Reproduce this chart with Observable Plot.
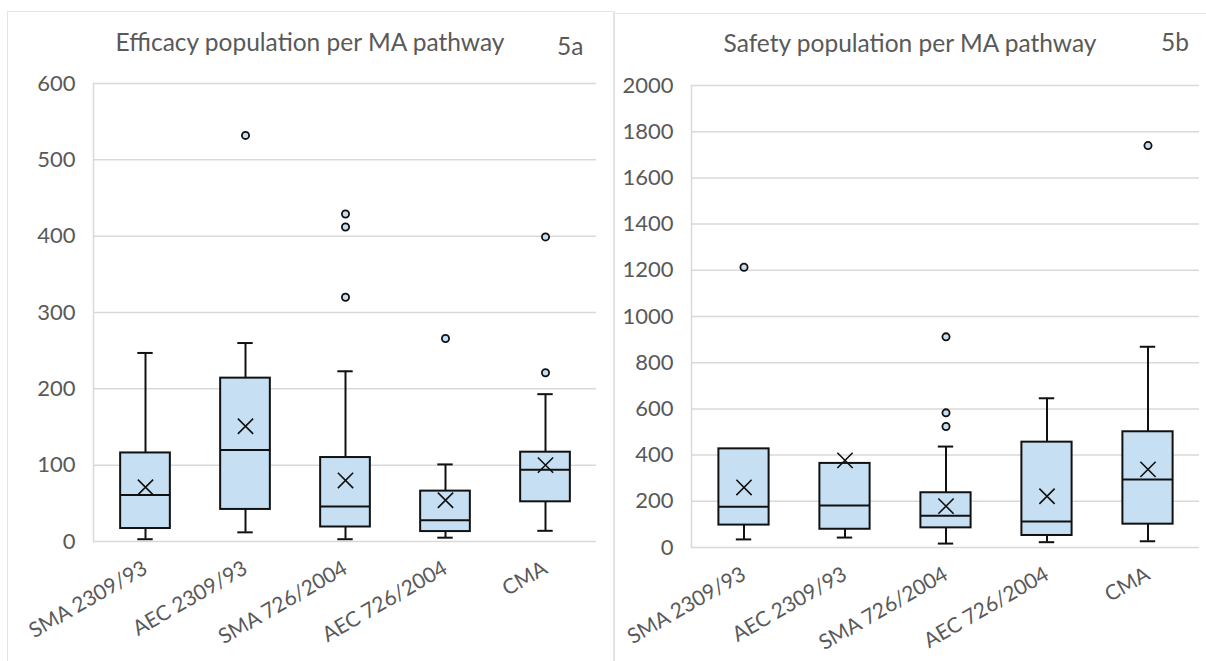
<!DOCTYPE html>
<html><head><meta charset="utf-8">
<script src="https://cdn.jsdelivr.net/npm/d3@7"></script>
<script src="https://cdn.jsdelivr.net/npm/@observablehq/plot@0.6"></script>
<style>
body{margin:0;background:#fff;font-family:Lato,sans-serif;}
#wrap{position:relative;width:1206px;height:661px;overflow:hidden;background:#fff;}
.panel{position:absolute;border:1px solid #e4e4e4;}
.chart{position:absolute;top:0;}
.title{position:absolute;color:#595959;font-size:24.5px;line-height:1;white-space:nowrap;}
</style></head><body>
<div id="wrap">
  <div class="panel" style="left:7px;top:11px;width:606px;height:700px"></div>
  <div class="panel" style="left:613px;top:13px;width:700px;height:700px"></div>
  <div id="c1" class="chart" style="left:0px"></div>
  <div id="c2" class="chart" style="left:613px"></div>
  <div class="title" style="left:310px;top:30px;transform:translateX(-50%)">Efficacy population per MA pathway</div>
  <div class="title" style="left:557px;top:34px">5a</div>
  <div class="title" style="left:910px;top:31px;transform:translateX(-50%)">Safety population per MA pathway</div>
  <div class="title" style="left:1161px;top:30px">5b</div>
</div>
<script>
const categories = ["SMA 2309/93", "AEC 2309/93", "SMA 726/2004", "AEC 726/2004", "CMA"];

// Efficacy population (5a)
const effMin = [3, 12, 3, 5, 14];
const effQ1 = [17, 42, 19, 13, 52];
const effMedian = [61, 120, 46, 28, 94];
const effQ3 = [116, 214, 110, 66, 117];
const effMax = [247, 260, 223, 101, 193];
const effMean = [71, 151, 80, 54, 100];
const effOutliers = [[], [532], [429, 412, 320], [266], [399, 221]];
const effTicks = [0, 100, 200, 300, 400, 500, 600];

// Safety population (5b)
const safMin = [35, 43, 17, 23, 27];
const safQ1 = [97, 79, 85, 52, 101];
const safMedian = [176, 182, 137, 113, 294];
const safQ3 = [427, 364, 237, 456, 501];
const safMax = [427, 364, 437, 646, 869];
const safMean = [260, 377, 179, 222, 338];
const safOutliers = [[1213], [], [912, 583, 524], [], [1740]];
const safTicks = [0, 200, 400, 600, 800, 1000, 1200, 1400, 1600, 1800, 2000];

const FILL = "#c6dff2";
const INK = "#111";
const TXT = "#595959";

function rows(mins, q1s, meds, q3s, maxs, means) {
  return categories.map((c, i) => ({cat: c, min: mins[i], q1: q1s[i], med: meds[i], q3: q3s[i], max: maxs[i], mean: means[i]}));
}
function outRows(outs) {
  const r = [];
  outs.forEach((arr, i) => arr.forEach(v => r.push({cat: categories[i], v})));
  return r;
}

function chart(data, outs, ticks, domainMax, opts) {
  const band = (opts.width - opts.marginLeft - opts.marginRight) / categories.length;
  const boxInset = band * 0.25;
  const capInset = (band - 16) / 2;
  return Plot.plot({
    width: opts.width,
    height: 661,
    marginLeft: opts.marginLeft,
    marginRight: opts.marginRight,
    marginTop: opts.marginTop,
    marginBottom: opts.marginBottom,
    style: {fontFamily: "Lato, sans-serif", fontSize: "22px", color: TXT, background: "transparent", overflow: "visible"},
    x: {type: "band", domain: categories, padding: 0},
    y: {domain: [0, domainMax]},
    marks: [
      Plot.gridY(ticks, {stroke: "#d9d9d9", strokeOpacity: 1, strokeWidth: 1.5}),
      Plot.frame({anchor: "left", stroke: "#d9d9d9", strokeWidth: 1.5}),
      Plot.axisY(ticks, {tickSize: 0, tickPadding: 18, tickFormat: d => String(d), fill: TXT, fontSize: 22, label: null}),
      Plot.axisX({tickSize: 0, tickPadding: 25, tickRotate: -30, fill: TXT, fontSize: 21, label: null}),
      Plot.ruleX(data.filter(d => d.max > d.q3), {x: "cat", y1: "q3", y2: "max", stroke: INK, strokeWidth: 2}),
      Plot.ruleX(data, {x: "cat", y1: "min", y2: "q1", stroke: INK, strokeWidth: 2}),
      Plot.tickY(data.filter(d => d.max > d.q3), {x: "cat", y: "max", stroke: INK, strokeWidth: 2, insetLeft: capInset, insetRight: capInset}),
      Plot.tickY(data, {x: "cat", y: "min", stroke: INK, strokeWidth: 2, insetLeft: capInset, insetRight: capInset}),
      Plot.barY(data, {x: "cat", y1: "q1", y2: "q3", fill: FILL, stroke: INK, strokeWidth: 2, insetLeft: boxInset, insetRight: boxInset}),
      Plot.tickY(data, {x: "cat", y: "med", stroke: INK, strokeWidth: 2, insetLeft: boxInset, insetRight: boxInset}),
      Plot.dot(data, {x: "cat", y: "mean", symbol: "times", r: 7, stroke: INK, strokeWidth: 1.6}),
      Plot.dot(outs, {x: "cat", y: "v", r: 3.6, fill: FILL, stroke: INK, strokeWidth: 1.8})
    ]
  });
}

document.getElementById("c1").append(
  chart(rows(effMin, effQ1, effMedian, effQ3, effMax, effMean), outRows(effOutliers), effTicks, 600,
    {width: 613, marginLeft: 93, marginRight: 17, marginTop: 83, marginBottom: 120}));
document.getElementById("c2").append(
  chart(rows(safMin, safQ1, safMedian, safQ3, safMax, safMean), outRows(safOutliers), safTicks, 2000,
    {width: 593, marginLeft: 78, marginRight: 7, marginTop: 85, marginBottom: 114}));
</script>
</body></html>
